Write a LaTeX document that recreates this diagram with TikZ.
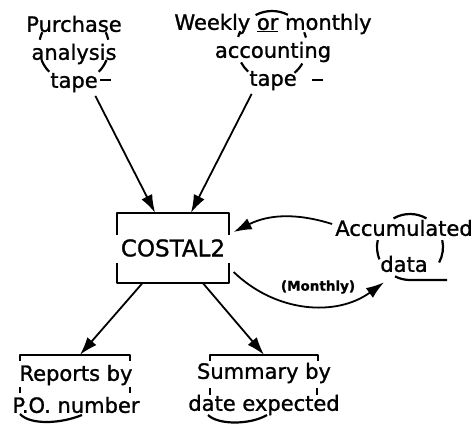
\documentclass[tikz,border=0pt]{standalone}
\usepackage{fontspec}
\setmainfont{DejaVu Sans}[FakeBold=1.2]
\usetikzlibrary{arrows.meta}

\begin{document}
\begin{tikzpicture}[x=1pt, y=1pt, line join=round,
  lbl/.style={font=\fontsize{21}{28}\selectfont, align=center, inner sep=0pt},
  doc/.style={font=\fontsize{21}{32}\selectfont, align=center, inner sep=0pt, minimum height=66pt},
  rim/.style={line width=2.2pt},
  flow/.style={line width=1.8pt, -{Latex[length=18pt,width=12pt]}}]
  \useasboundingbox (0,0) rectangle (476,426);
  % tape files
  \node[lbl] (purchase) at (74,372) {Purchase\\analysis\\tape};
  \node[lbl] (weekly) at (273,374) {Weekly \underline{or} monthly\\accounting\\tape};
  \node[lbl] (accum) at (404,180) {Accumulated\\[8pt]data};
  \coordinate (pc) at (74,379);
  \coordinate (wc) at (272,380);
  \coordinate (ac) at (410,179);
  \foreach \a/\b in {155/168, 202/225, 12/25, 315/338}
    \draw[rim] (pc) ++(\a:35) arc[start angle=\a, end angle=\b, radius=35];
  \foreach \a/\b in {63/118, 155/165, 14/23, 208/227, 310/330}
    \draw[rim] (wc) ++(\a:35) arc[start angle=\a, end angle=\b, radius=35];
  \foreach \a/\b in {60/120, 168/202, -28/12}
    \draw[rim] (ac) ++(\a:33) arc[start angle=\a, end angle=\b, radius=33];
  \draw[rim] (100,346) -- (111,346);
  \draw[rim] (312,346) -- (323,346);
  \draw[rim] (ac) ++(243:33) arc[start angle=243, end angle=270, radius=33] -- (447,146);
  % program box
  \node[font=\fontsize{23}{28}\selectfont, minimum width=110pt, minimum height=70pt] (costal) at (173,178) {COSTAL2};
  \draw[rim] ([yshift=-22pt]costal.north west) -- (costal.north west) -- (costal.north east) -- ([yshift=-22pt]costal.north east);
  \draw[rim] ([yshift=20pt]costal.south west) -- (costal.south west) -- (costal.south east) -- ([yshift=20pt]costal.south east);
  % printed reports
  \node[doc] (reports) at (76,37) {Reports by\\P.O. number};
  \node[doc] (summary) at (264,37) {Summary by\\date expected};
  \draw[rim] (20,65) -- (20,71) -- (130,71) -- (130,65);
  \draw[rim] (20,39) -- (20,33) (130,39) -- (130,33);
  \draw[rim] (20,12) .. controls (30,1) and (60,2) .. (82,11);
  \draw[rim] (210,65) -- (210,71) -- (318,71) -- (318,65);
  \draw[rim] (210,38) -- (210,31) (317,38) -- (317,31);
  \draw[rim] (208,11) .. controls (218,1) and (250,1) .. (267,11);
  % flows
  \draw[flow, shorten <=4pt] (purchase) -- (costal);
  \draw[flow, shorten <=4pt] (weekly) -- (costal);
  \draw[flow] (costal) -- ([xshift=4pt,yshift=1pt]reports.north);
  \draw[flow] (costal) -- ([yshift=1pt]summary.north);
  \draw[flow] ([xshift=-3pt,yshift=22pt]accum.west) to[bend right=22] ([xshift=5pt,yshift=16pt]costal.east);
  \draw[flow] ([xshift=5pt,yshift=-24pt]costal.east) to[bend right=40] ([xshift=-20pt,yshift=-10pt]accum.south);
  \node[font=\bfseries\fontsize{13.5}{16}\selectfont] (monthly) at (318,139) {(Monthly)};
\end{tikzpicture}
\end{document}
